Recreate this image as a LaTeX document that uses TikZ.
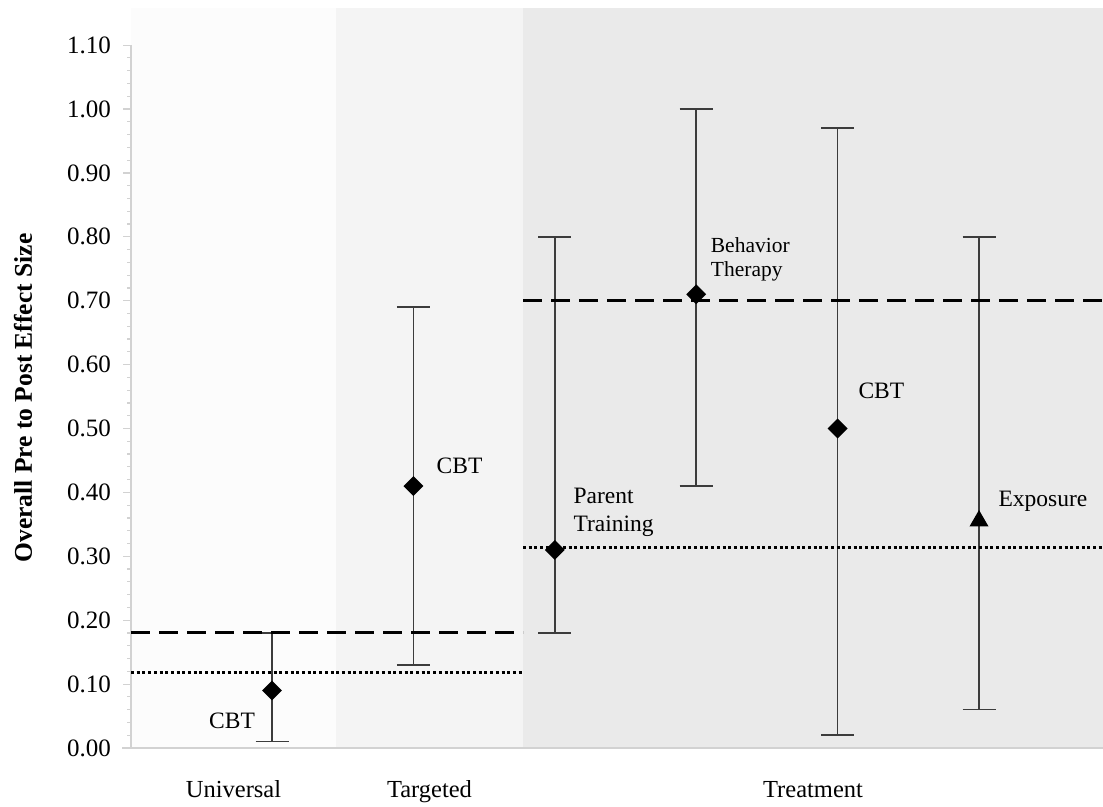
\documentclass[tikz,border=0pt]{standalone}
\usepackage{fontspec}
\setmainfont{Liberation Serif}
\usetikzlibrary{shapes.geometric}
\definecolor{uniband}{HTML}{FCFCFC}
\definecolor{tgtband}{HTML}{F4F4F4}
\definecolor{trtband}{HTML}{EAEAEA}
\definecolor{axisgray}{HTML}{D2D2D2}
\definecolor{bargray}{HTML}{3C3C3C}
\begin{document}
\begin{tikzpicture}[x=1pt,y=-1pt,
  ebar/.style={draw=bargray, line width=1.5pt},
  axisline/.style={draw=axisgray, line width=1.8pt},
  tickline/.style={draw=axisgray, line width=1.2pt},
  meanref/.style={draw=black, line width=3pt, dash pattern=on 19pt off 9pt},
  medref/.style={draw=black, line width=3pt, dash pattern=on 3pt off 2.7pt},
  dmark/.style={diamond, fill=black, inner sep=0pt, minimum width=20pt, minimum height=20pt},
  tmark/.style={regular polygon, regular polygon sides=3, fill=black, inner sep=0pt, minimum size=22pt},
  ticklab/.style={anchor=east, font=\fontsize{25}{28}\selectfont, inner sep=0pt},
  catlab/.style={anchor=base, font=\fontsize{24.5}{28}\selectfont, inner sep=0pt},
  ptlab/.style={anchor=base west, font=\fontsize{23.5}{28}\selectfont, inner sep=0pt},
  btlab/.style={anchor=base west, font=\fontsize{21.5}{24}\selectfont, inner sep=0pt}
]
\useasboundingbox (0,0) rectangle (1103,806);
\fill[white] (0,0) rectangle (1103,806);
% bands
\fill[uniband] (131,8) rectangle (336,748);
\fill[tgtband] (336,8) rectangle (523,748);
\fill[trtband] (523,8) rectangle (1103,748);
% axes
\draw[axisline] (131,45) -- (131,748);
\draw[axisline] (122,748) -- (1103,748);
\foreach \i in {0,...,55} {
  \draw[tickline] (127,{748-\i*12.78}) -- (131,{748-\i*12.78});
}
\foreach \i in {0,...,11} {
  \draw[tickline] (123,{748-\i*63.9}) -- (131,{748-\i*63.9});
}
\foreach \v/\t in {0/0.00,1/0.10,2/0.20,3/0.30,4/0.40,5/0.50,6/0.60,7/0.70,8/0.80,9/0.90,10/1.00,11/1.10} {
  \node[ticklab] (tl\v) at (111,{748-\v*63.9}) {\t};
}
% axis title
\node[rotate=90, inner sep=0pt, font=\bfseries\fontsize{25.5}{30}\selectfont] (ytitle) at (23,398) {Overall Pre to Post Effect Size};
% category labels
\node[catlab] (catU) at (233.5,797) {Universal};
\node[catlab] (catG) at (429.5,797) {Targeted};
\node[catlab] (catT) at (813,797) {Treatment};
% error bars: name / x / low / high
\foreach \n/\x/\lo/\hi in {u/272/0.01/0.18, g/413.4/0.13/0.69, p/554.8/0.18/0.80, b/696.2/0.41/1.00, c/837.6/0.02/0.97, e/979/0.06/0.80} {
  \coordinate (\n hi) at (\x,{748-\hi*639});
  \coordinate (\n lo) at (\x,{748-\lo*639});
  \draw[ebar] (\n hi) -- (\n lo);
  \draw[ebar] ([xshift=-16.5pt]\n hi) -- ([xshift=16.5pt]\n hi);
  \draw[ebar] ([xshift=-16.5pt]\n lo) -- ([xshift=16.5pt]\n lo);
}
% reference lines
\coordinate (mA) at (131,{748-0.18*639});
\coordinate (mB) at (523,{748-0.18*639});
\coordinate (mC) at (523,{748-0.70*639});
\coordinate (mD) at (1103,{748-0.70*639});
\coordinate (dA) at (131,{748-0.118*639});
\coordinate (dB) at (523,{748-0.118*639});
\coordinate (dC) at (523,{748-0.314*639});
\coordinate (dD) at (1103,{748-0.314*639});
\draw[meanref] (mA) -- (mB);
\draw[meanref] (mC) -- (mD);
\draw[medref] (dA) -- (dB);
\draw[medref] (dC) -- (dD);
% markers
\node[dmark] (mu) at (272,{748-0.09*639}) {};
\node[dmark] (mg) at (413.4,{748-0.41*639}) {};
\node[dmark] (mp) at (554.8,{748-0.31*639}) {};
\node[dmark] (mb) at (696.2,{748-0.71*639}) {};
\node[dmark] (mc) at (837.6,{748-0.50*639}) {};
\node[tmark, yshift=-3pt] (me) at (979,{748-0.36*639}) {};
% point labels
\node[ptlab] (lu) at (209,728.5) {CBT};
\node[ptlab] (lg) at (436.5,473) {CBT};
\node[ptlab] (lp1) at (573.3,503.3) {Parent};
\node[ptlab] (lp2) at (573.3,531.7) {Training};
\node[btlab] (lb1) at (710.7,252.7) {Behavior};
\node[btlab] (lb2) at (710.7,276.7) {Therapy};
\node[ptlab] (lc) at (858.3,398.3) {CBT};
\node[ptlab] (le) at (998.3,506) {Exposure};
\end{tikzpicture}
\end{document}
